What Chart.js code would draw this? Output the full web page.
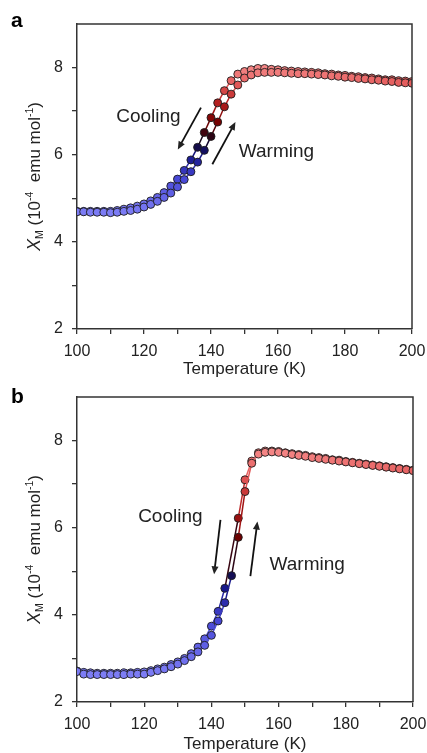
<!DOCTYPE html>
<html>
<head>
<meta charset="utf-8">
<script src="https://cdn.jsdelivr.net/npm/chart.js@4.4.0/dist/chart.umd.min.js"></script>
<style>
  html, body { margin: 0; padding: 0; background: #fff; }
  .panel { position: relative; width: 427px; }
  canvas { display: block; }
</style>
</head>
<body>
<div class="panel" style="height:378px"><canvas id="chartA"></canvas></div>
<div class="panel" style="height:375px"><canvas id="chartB"></canvas></div>
<script>
// temperature (K), every 2 K
const temps = [100, 102, 104, 106, 108, 110, 112, 114, 116, 118, 120, 122, 124, 126, 128, 130, 132, 134, 136, 138,
  140, 142, 144, 146, 148, 150, 152, 154, 156, 158, 160, 162, 164, 166, 168, 170, 172, 174, 176, 178,
  180, 182, 184, 186, 188, 190, 192, 194, 196, 198, 200];

// panel a, chi_M (10^-4 emu/mol)
const coolingA = [4.70, 4.70, 4.70, 4.70, 4.70, 4.70, 4.72, 4.75, 4.78, 4.82, 4.87, 4.94, 5.02, 5.13, 5.28, 5.44, 5.64, 5.88, 6.17, 6.51,
  6.85, 7.19, 7.47, 7.70, 7.85, 7.91, 7.95, 7.98, 7.98, 7.96, 7.95, 7.93, 7.92, 7.91, 7.90, 7.89, 7.88, 7.86, 7.85, 7.83,
  7.82, 7.80, 7.79, 7.77, 7.76, 7.74, 7.72, 7.72, 7.70, 7.69, 7.68];
const warmingA = [4.69, 4.69, 4.68, 4.68, 4.68, 4.67, 4.68, 4.70, 4.72, 4.75, 4.80, 4.86, 4.93, 5.02, 5.12, 5.26, 5.43, 5.61, 5.83, 6.10,
  6.42, 6.75, 7.10, 7.39, 7.60, 7.76, 7.83, 7.88, 7.89, 7.89, 7.89, 7.88, 7.87, 7.86, 7.86, 7.85, 7.84, 7.83, 7.81, 7.80,
  7.78, 7.77, 7.75, 7.74, 7.72, 7.71, 7.69, 7.68, 7.66, 7.65, 7.64];

// panel b (no cooling point at 146 K)
const coolingB = [2.71, 2.68, 2.67, 2.66, 2.66, 2.66, 2.66, 2.67, 2.67, 2.68, 2.69, 2.72, 2.76, 2.80, 2.86, 2.92, 3.00, 3.11, 3.26, 3.45,
  3.74, 4.08, 4.61, null, 6.22, 7.10, 7.53, 7.72, 7.76, 7.76, 7.75, 7.72, 7.70, 7.68, 7.66, 7.63, 7.61, 7.59, 7.56, 7.55,
  7.52, 7.50, 7.48, 7.46, 7.44, 7.42, 7.40, 7.38, 7.36, 7.34, 7.32];
const warmingB = [2.70, 2.64, 2.63, 2.63, 2.63, 2.63, 2.63, 2.63, 2.64, 2.64, 2.64, 2.68, 2.72, 2.76, 2.81, 2.87, 2.95, 3.04, 3.15, 3.30,
  3.53, 3.86, 4.28, 4.90, 5.78, 6.83, 7.48, 7.69, 7.73, 7.74, 7.73, 7.71, 7.68, 7.66, 7.64, 7.61, 7.59, 7.57, 7.55, 7.53,
  7.51, 7.49, 7.47, 7.45, 7.43, 7.41, 7.39, 7.37, 7.35, 7.33, 7.31];

const xTicks = [100, 120, 140, 160, 180, 200];
const yTicks = [2, 4, 6, 8];

// annotation text + arrows, in data units [T, chi]
const notesA = {
  cooling: { text: [111.7, 6.88], arrow: [[137.0, 7.08], [130.1, 6.12]] },
  warming: { text: [148.3, 6.07], arrow: [[140.4, 5.78], [147.3, 6.75]] }
};
const notesB = {
  cooling: { text: [118.2, 6.25], arrow: [[142.7, 6.18], [140.8, 4.93]] },
  warming: { text: [157.3, 5.16], arrow: [[151.6, 4.89], [153.7, 6.14]] }
};

const FONT = "'Liberation Sans', Arial, sans-serif";

// light blue -> navy -> black -> dark red -> pink
const stops = [
  [0.00, [125, 125, 245]],
  [0.25, [68, 68, 212]],
  [0.40, [20, 20, 130]],
  [0.50, [20, 5, 25]],
  [0.62, [115, 0, 0]],
  [0.76, [180, 30, 30]],
  [0.88, [225, 85, 85]],
  [1.00, [245, 135, 135]]
];
function cmap(t) {
  t = Math.max(0, Math.min(1, t));
  for (let i = 1; i < stops.length; i++) {
    if (t <= stops[i][0]) {
      const [t0, c0] = stops[i - 1], [t1, c1] = stops[i];
      const f = (t - t0) / (t1 - t0);
      const c = c0.map((v, k) => Math.round(v + (c1[k] - v) * f));
      return `rgb(${c[0]},${c[1]},${c[2]})`;
    }
  }
  return 'rgb(245,135,135)';
}

// skip missing readings so the line just joins the neighbours
function toPoints(vals) {
  return temps.map((t, i) => ({ x: t, y: vals[i] })).filter(p => p.y !== null);
}

const decor = {
  id: 'decor',
  afterDraw(chart, args, opts) {
    const { ctx, chartArea: a, scales: { x, y } } = chart;
    ctx.save();
    // frame top/right
    ctx.strokeStyle = '#333';
    ctx.lineWidth = 1.5;
    ctx.beginPath();
    ctx.moveTo(a.left, a.top);
    ctx.lineTo(a.right, a.top);
    ctx.lineTo(a.right, a.bottom);
    ctx.stroke();

    // panel letter
    ctx.fillStyle = '#000';
    ctx.font = `bold 21px ${FONT}`;
    ctx.textBaseline = 'alphabetic';
    ctx.textAlign = 'left';
    ctx.fillText(opts.letter, 11, opts.letterY);

    // y title with sub/superscripts
    const parts = [
      { t: 'X', f: `italic 18px ${FONT}`, dy: 0 },
      { t: 'M', f: `10.5px ${FONT}`, dy: 3 },
      { t: ' (10', f: `17px ${FONT}`, dy: 0 },
      { t: '-4', f: `10.5px ${FONT}`, dy: -7 },
      { t: '  emu mol', f: `17px ${FONT}`, dy: 0 },
      { t: '-1', f: `10.5px ${FONT}`, dy: -7 },
      { t: ')', f: `17px ${FONT}`, dy: 0 }
    ];
    let w = 0;
    parts.forEach(p => { ctx.font = p.f; p.w = ctx.measureText(p.t).width; w += p.w; });
    ctx.translate(40, (a.top + a.bottom) / 2);
    ctx.rotate(-Math.PI / 2);
    ctx.fillStyle = '#222';
    let cx = -w / 2;
    parts.forEach(p => { ctx.font = p.f; ctx.fillText(p.t, cx, p.dy); cx += p.w; });
    ctx.restore();

    // annotations
    ctx.save();
    ctx.fillStyle = '#222';
    ctx.strokeStyle = '#111';
    ctx.font = `19px ${FONT}`;
    ctx.textBaseline = 'middle';
    ctx.textAlign = 'left';
    [['Cooling', opts.notes.cooling], ['Warming', opts.notes.warming]].forEach(([label, n]) => {
      ctx.fillText(label, x.getPixelForValue(n.text[0]), y.getPixelForValue(n.text[1]));
      const x0 = x.getPixelForValue(n.arrow[0][0]), y0 = y.getPixelForValue(n.arrow[0][1]);
      const x1 = x.getPixelForValue(n.arrow[1][0]), y1 = y.getPixelForValue(n.arrow[1][1]);
      const ang = Math.atan2(y1 - y0, x1 - x0);
      const hl = 8, hw = 3.5;
      ctx.lineWidth = 1.8;
      ctx.beginPath();
      ctx.moveTo(x0, y0);
      ctx.lineTo(x1 - Math.cos(ang) * hl * 0.8, y1 - Math.sin(ang) * hl * 0.8);
      ctx.stroke();
      ctx.beginPath();
      ctx.moveTo(x1, y1);
      ctx.lineTo(x1 - Math.cos(ang) * hl - Math.sin(ang) * hw, y1 - Math.sin(ang) * hl + Math.cos(ang) * hw);
      ctx.lineTo(x1 - Math.cos(ang) * hl + Math.sin(ang) * hw, y1 - Math.sin(ang) * hl - Math.cos(ang) * hw);
      ctx.closePath();
      ctx.fill();
    });
    ctx.restore();
  }
};

function makeChart(id, cooling, warming, notes, letter, letterY, padTop, padRight, xHeight) {
  const all = cooling.concat(warming).filter(v => v !== null);
  const lo = Math.min(...all), hi = Math.max(...all);
  const col = v => cmap((v - lo) / (hi - lo));

  const ds = (label, vals) => ({
    label,
    data: toPoints(vals),
    borderColor: '#222',
    borderWidth: 1.5,
    pointRadius: 4,
    pointBorderWidth: 0.9,
    pointBorderColor: '#1c1c1c',
    pointBackgroundColor: c => col(c.raw.y),
    segment: { borderColor: c => col((c.p0.parsed.y + c.p1.parsed.y) / 2) },
    tension: 0
  });

  return new Chart(document.getElementById(id), {
    type: 'line',
    data: { datasets: [ds('Warming', warming), ds('Cooling', cooling)] },
    options: {
      responsive: true,
      maintainAspectRatio: false,
      animation: false,
      layout: { autoPadding: false, padding: { top: padTop, right: padRight, left: 0, bottom: 0 } },
      plugins: {
        legend: { display: false },
        tooltip: { enabled: false },
        decor: { letter, letterY, notes }
      },
      scales: {
        x: {
          type: 'linear',
          min: 100, max: 200,
          afterFit: s => { s.height = xHeight; s.paddingLeft = 0; s.paddingRight = 0; },
          afterBuildTicks: s => { s.ticks = []; for (let v = 100; v <= 200; v += 10) s.ticks.push({ value: v }); },
          grid: { drawOnChartArea: false, tickLength: 5, color: '#333', lineWidth: 1.3 },
          border: { color: '#333', width: 1.5 },
          ticks: {
            color: '#222', font: { family: FONT, size: 16 }, padding: 8, maxRotation: 0, autoSkip: false,
            callback: v => xTicks.includes(v) ? String(v) : ''
          },
          title: {
            display: true, text: 'Temperature (K)', color: '#222',
            font: { family: FONT, size: 17, lineHeight: 1 }, padding: 0
          }
        },
        y: {
          min: 2, max: 9,
          afterFit: s => { s.width = 77; s.paddingTop = 0; s.paddingBottom = 0; },
          afterBuildTicks: s => { s.ticks = []; for (let v = 2; v <= 8; v += 1) s.ticks.push({ value: v }); },
          grid: { drawOnChartArea: false, tickLength: 5, color: '#333', lineWidth: 1.3 },
          border: { color: '#333', width: 1.5 },
          ticks: {
            color: '#222', font: { family: FONT, size: 16 }, padding: 9, autoSkip: false,
            callback: v => yTicks.includes(v) ? String(v) : ''
          }
        }
      }
    },
    plugins: [decor]
  });
}

makeChart('chartA', coolingA, warmingA, notesA, 'a', 27, 24, 15, 49);
makeChart('chartB', coolingB, warmingB, notesB, 'b', 25, 19, 14, 51);
</script>
</body>
</html>
